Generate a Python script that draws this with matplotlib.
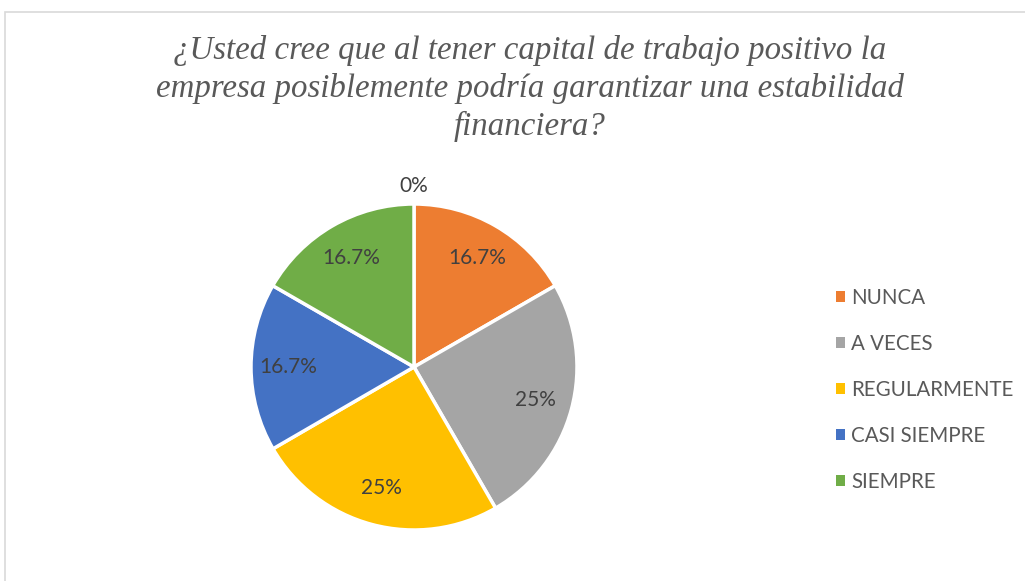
import matplotlib
matplotlib.use("Agg")
import matplotlib.pyplot as plt
from matplotlib.patches import Rectangle
import numpy as np

title = "¿Usted cree que al tener capital de trabajo positivo la\nempresa posiblemente podría garantizar una estabilidad\nfinanciera?"
categories = ["", "NUNCA", "A VECES", "REGULARMENTE", "CASI SIEMPRE", "SIEMPRE"]
values = [0, 16.7, 25, 25, 16.7, 16.7]
value_labels = ["0%", "16.7%", "25%", "25%", "16.7%", "16.7%"]
colors = ["#FFFFFF", "#ED7D31", "#A5A5A5", "#FFC000", "#4472C4", "#70AD47"]

W, H = 1025, 581
fig = plt.figure(figsize=(W / 100, H / 100), dpi=100)

# border
fig.patches.append(Rectangle((5 / W, -0.1), 1.2, (H - 12) / H + 0.1,
                             transform=fig.transFigure, fill=False,
                             ec="#D9D9D9", lw=1.2))

cx, cy, r = 414, 367, 163
ax = fig.add_axes([(cx - r) / W, (H - cy - r) / H, 2 * r / W, 2 * r / H])
ax.axis("off")

nz = [i for i, v in enumerate(values) if v > 0]
wedges, _ = ax.pie([values[i] for i in nz], colors=[colors[i] for i in nz],
                   startangle=90, counterclock=False, radius=1,
                   wedgeprops=dict(edgecolor="white", linewidth=2.5))
ax.set_xlim(-1, 1)
ax.set_ylim(-1, 1)
ax.set_aspect("equal")

total = sum(values)
cum = 0
for v, lab in zip(values, value_labels):
    mid = 90 - (cum + v / 2) / total * 360
    d = 0.77 if v > 0 else 1.11
    th = np.deg2rad(mid)
    ax.text(d * np.cos(th), d * np.sin(th), lab, ha="center", va="center",
            fontsize=15, color="#404040", family="Lato", clip_on=False)
    cum += v

fig.text(530 / W, 1 - 88.5 / H, title, ha="center", va="center",
         fontsize=23.7, color="#595959", family="Liberation Serif",
         style="italic", linespacing=1.3)

leg = fig.legend(wedges, [categories[i] for i in nz],
                 loc="center left", bbox_to_anchor=(836 / W, 1 - 390 / H),
                 frameon=False, handlelength=0.45, handleheight=0.45,
                 handletextpad=0.3, labelspacing=1.27, borderpad=0,
                 borderaxespad=0, prop=dict(family="Lato", size=14.8))
for t in leg.get_texts():
    t.set_color("#595959")
for h in leg.legend_handles:
    h.set_edgecolor("none")

fig.savefig("out.png", dpi=100)
